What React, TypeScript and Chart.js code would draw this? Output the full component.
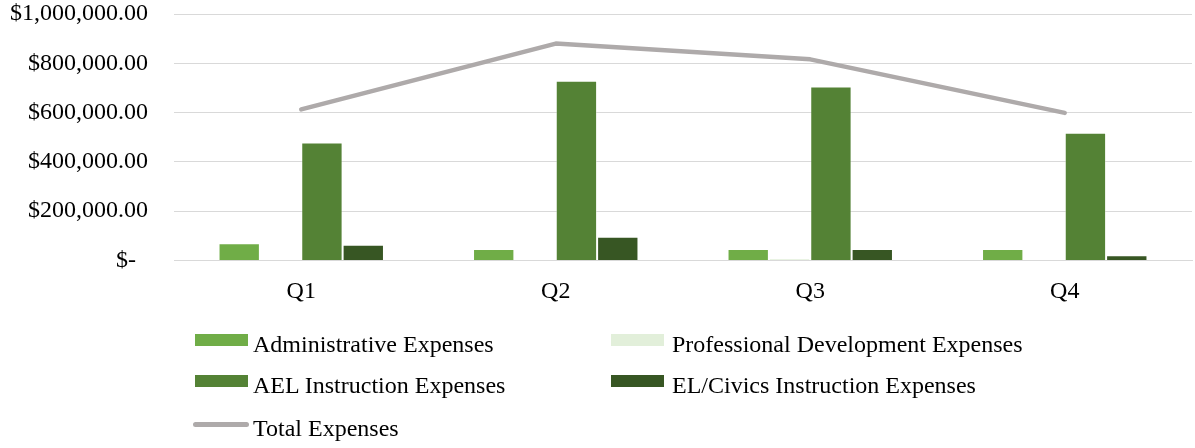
import React, { useEffect, useRef } from "react";
import { Chart, registerables } from "chart.js";

Chart.register(...registerables);

const categories = ["Q1", "Q2", "Q3", "Q4"];
const administrative = [70000, 47000, 47000, 47000];
const professionalDev = [0, 0, 9000, 0];
const aelInstruction = [479000, 729000, 706000, 518000];
const elCivics = [64000, 96000, 47000, 21000];
const totalExpenses = [613000, 880000, 816000, 599000];
const yTicks = [0, 200000, 400000, 600000, 800000, 1000000];

const FONT = "'Liberation Serif', 'Times New Roman', serif";

const COLORS = {
  admin: "#70AD47",
  prof: "#E2EFDA",
  ael: "#548235",
  el: "#375623",
  total: "#AEAAAA",
};

const legendItems = [
  { label: "Administrative Expenses", color: COLORS.admin, type: "box", x: 195, tx: 253, y: 339.5 },
  { label: "Professional Development Expenses", color: COLORS.prof, type: "box", x: 611, tx: 672, y: 339.5 },
  { label: "AEL Instruction Expenses", color: COLORS.ael, type: "box", x: 195, tx: 253, y: 381 },
  { label: "EL/Civics Instruction Expenses", color: COLORS.el, type: "box", x: 611, tx: 672, y: 381 },
  { label: "Total Expenses", color: COLORS.total, type: "line", x: 193, tx: 253, y: 424 },
];

function fmt(v: number): string {
  if (v === 0) return "$-  ";
  return "$" + v.toLocaleString("en-US", { minimumFractionDigits: 2, maximumFractionDigits: 2 });
}

export default function App() {
  const ref = useRef<HTMLCanvasElement | null>(null);

  useEffect(() => {
    if (!ref.current) return;
    const barBorder = "rgba(255,255,255,0.35)";
    const chart = new Chart(ref.current, {
      type: "bar",
      data: {
        labels: categories,
        datasets: [
          {
            type: "line",
            label: "Total Expenses",
            data: totalExpenses,
            borderColor: COLORS.total,
            backgroundColor: COLORS.total,
            borderWidth: 4.5,
            borderCapStyle: "round",
            borderJoinStyle: "round",
            pointRadius: 0,
            tension: 0,
            order: 0,
          } as any,
          {
            label: "Administrative Expenses",
            data: administrative,
            backgroundColor: COLORS.admin,
            borderColor: barBorder,
            borderWidth: 1,
            order: 1,
          },
          {
            label: "Professional Development Expenses",
            data: professionalDev,
            backgroundColor: COLORS.prof,
            borderColor: barBorder,
            borderWidth: 1,
            order: 1,
          },
          {
            label: "AEL Instruction Expenses",
            data: aelInstruction,
            backgroundColor: COLORS.ael,
            borderColor: barBorder,
            borderWidth: 1,
            order: 1,
          },
          {
            label: "EL/Civics Instruction Expenses",
            data: elCivics,
            backgroundColor: COLORS.el,
            borderColor: barBorder,
            borderWidth: 1,
            order: 1,
          },
        ],
      },
      options: {
        responsive: false,
        animation: false,
        layout: { padding: { top: 14, right: 3, left: 0, bottom: 0 } },
        datasets: {
          bar: { categoryPercentage: 0.65, barPercentage: 1 },
        },
        plugins: {
          legend: { display: false },
          tooltip: { enabled: false },
        },
        scales: {
          x: {
            grid: { display: false, drawTicks: false },
            border: { display: true, color: "#D9D9D9", width: 1 },
            ticks: {
              color: "#000",
              padding: 17,
              font: { family: FONT, size: 24 },
            },
            afterFit: (s: any) => {
              s.height = 187.5;
              s.paddingLeft = 0;
              s.paddingRight = 0;
            },
          },
          y: {
            min: 0,
            max: 1000000,
            afterBuildTicks: (s: any) => {
              s.ticks = yTicks.map((v) => ({ value: v }));
            },
            grid: { color: "#D9D9D9", lineWidth: 1, drawTicks: false },
            border: { display: false },
            ticks: {
              color: "#000",
              padding: 26,
              font: { family: FONT, size: 24 },
              callback: (v: any) => fmt(Number(v)),
            },
            afterFit: (s: any) => {
              s.width = 174;
              s.paddingTop = 0;
              s.paddingBottom = 0;
            },
          },
        },
      },
    });
    return () => chart.destroy();
  }, []);

  return (
    <div style={{ position: "absolute", left: 0, top: 0, width: 1195, height: 448, background: "#fff", overflow: "hidden" }}>
      <canvas ref={ref} width={1195} height={448} style={{ display: "block", width: 1195, height: 448 }} />
      {legendItems.map((it) => (
        <React.Fragment key={it.label}>
          {it.type === "box" ? (
            <div
              style={{
                position: "absolute",
                left: it.x,
                top: it.y - 6,
                width: 53,
                height: 12,
                background: it.color,
              }}
            />
          ) : (
            <div
              style={{
                position: "absolute",
                left: it.x,
                top: it.y - 2.5,
                width: 56,
                height: 5,
                borderRadius: 2.5,
                background: it.color,
              }}
            />
          )}
          <div
            style={{
              position: "absolute",
              left: it.tx,
              top: it.y - 8,
              fontFamily: FONT,
              fontSize: 24,
              lineHeight: "24px",
              color: "#000",
              whiteSpace: "nowrap",
            }}
          >
            {it.label}
          </div>
        </React.Fragment>
      ))}
    </div>
  );
}
